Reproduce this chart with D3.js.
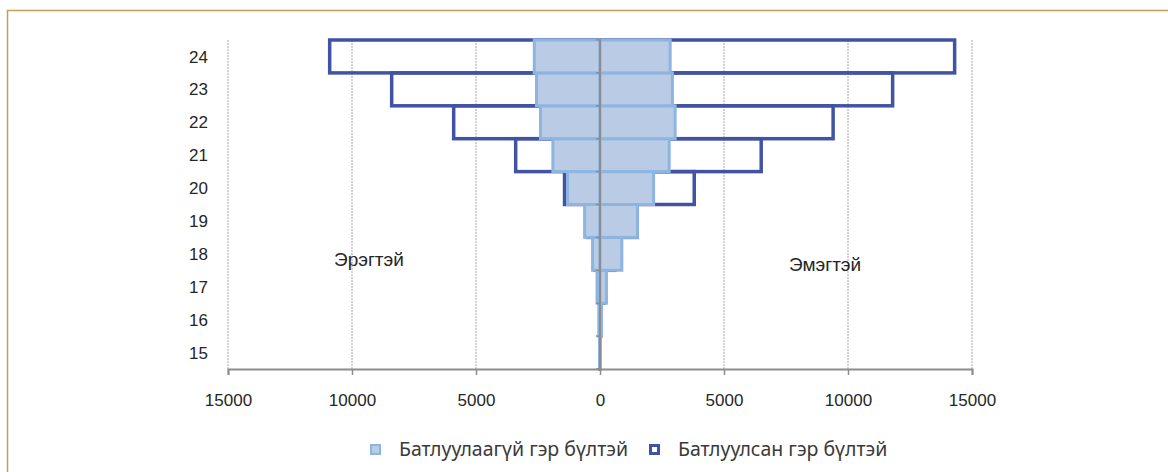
<!DOCTYPE html>
<html>
<head>
<meta charset="utf-8">
<script src="https://cdn.jsdelivr.net/npm/d3@7"></script>
<style>
  html, body { margin: 0; padding: 0; background: #fff; }
  svg { display: block; }
</style>
</head>
<body>
<svg id="chart" width="1168" height="472"></svg>
<script>
// ---- data ----
const ages = [15, 16, 17, 18, 19, 20, 21, 22, 23, 24];
const unregMale   = [20, 40, 120, 300, 620, 1310, 1900, 2400, 2560, 2650];
const unregFemale = [20, 60, 260, 880, 1510, 2160, 2790, 3030, 2920, 2830];
const regMale     = [5, 20, 50, 200, 500, 1430, 3400, 5900, 8400, 10900];
const regFemale   = [10, 30, 150, 600, 1500, 3800, 6500, 9400, 11800, 14300];
const xTicks = [-15000, -10000, -5000, 0, 5000, 10000, 15000];
const seriesNames = ["Батлуулаагүй гэр бүлтэй", "Батлуулсан гэр бүлтэй"];
const sideLabels = ["Эрэгтэй", "Эмэгтэй"];

// ---- style ----
const darkBlue = "#4353a4";
const lightFill = "#b9cbe5";
const lightStroke = "#8eb4e0";
const axisGray = "#8c8c8c";
const baseFont = "'Liberation Sans', Arial, sans-serif";

const svg = d3.select("#chart");

// frame
svg.append("path")
  .attr("d", "M7.5,472 L7.5,10.5 L1168,10.5")
  .attr("fill", "none").attr("stroke", "#bfa15a").attr("stroke-width", 1.5);

const x = d3.scaleLinear().domain([-15000, 15000]).range([228, 972]);
const y = d3.scaleBand().domain(ages.slice().reverse()).range([40, 369]).padding(0);

// gridlines
svg.append("g").selectAll("line")
  .data(xTicks.filter(t => t !== 0))
  .join("line")
  .attr("x1", d => x(d)).attr("x2", d => x(d))
  .attr("y1", 40).attr("y2", 369)
  .attr("stroke", "#a6a6a6").attr("stroke-width", 1)
  .attr("stroke-dasharray", "2,1");

const rows = ages.map((a, i) => ({
  age: a, um: unregMale[i], uf: unregFemale[i], rm: regMale[i], rf: regFemale[i]
}));

// registered (outline bars) behind
const gReg = svg.append("g");
rows.forEach(r => {
  gReg.append("rect")
    .attr("x", x(-r.rm)).attr("y", y(r.age))
    .attr("width", x(0) - x(-r.rm)).attr("height", y.bandwidth())
    .attr("fill", "none").attr("stroke", darkBlue).attr("stroke-width", 3.5);
  gReg.append("rect")
    .attr("x", x(0)).attr("y", y(r.age))
    .attr("width", x(r.rf) - x(0)).attr("height", y.bandwidth())
    .attr("fill", "none").attr("stroke", darkBlue).attr("stroke-width", 3.5);
});

// unregistered (filled) in front
const gUn = svg.append("g");
rows.forEach(r => {
  gUn.append("rect")
    .attr("x", x(-r.um)).attr("y", y(r.age))
    .attr("width", x(0) - x(-r.um)).attr("height", y.bandwidth())
    .attr("fill", lightFill).attr("stroke", lightStroke).attr("stroke-width", 3);
  gUn.append("rect")
    .attr("x", x(0)).attr("y", y(r.age))
    .attr("width", x(r.uf) - x(0)).attr("height", y.bandwidth())
    .attr("fill", lightFill).attr("stroke", lightStroke).attr("stroke-width", 3);
});

// y axis (center line with tick marks at band boundaries)
svg.append("line")
  .attr("x1", x(0)).attr("x2", x(0)).attr("y1", 39).attr("y2", 369)
  .attr("stroke", axisGray).attr("stroke-width", 2);
const bounds = ages.slice().reverse().map(a => y(a));
svg.append("g").selectAll("line").data(bounds.concat([369]))
  .join("line")
  .attr("x1", x(0) - 4).attr("x2", x(0))
  .attr("y1", d => d).attr("y2", d => d)
  .attr("stroke", axisGray).attr("stroke-width", 1.5);

// y labels (low position)
svg.append("g").selectAll("text").data(ages)
  .join("text")
  .attr("x", 208).attr("y", d => y(d) + y.bandwidth() / 2)
  .attr("dy", "0.36em")
  .attr("text-anchor", "end")
  .attr("font-family", baseFont).attr("font-size", 17)
  .attr("fill", "#262626")
  .text(d => d);

// x axis
const xAxis = d3.axisBottom(x).tickValues(xTicks).tickSize(6)
  .tickFormat(d => Math.abs(d));
const gx = svg.append("g").attr("transform", "translate(0,369)").call(xAxis);
gx.select(".domain").attr("stroke", axisGray).attr("stroke-width", 2);
gx.selectAll(".tick line").attr("stroke", axisGray).attr("stroke-width", 1.5);
gx.selectAll(".tick text")
  .attr("y", 0).attr("dy", "37px")
  .attr("font-family", baseFont).attr("font-size", 17).attr("fill", "#262626");

// side labels
svg.append("text").attr("x", 334).attr("y", 266)
  .attr("font-family", baseFont).attr("font-size", 19).attr("fill", "#262626")
  .text(sideLabels[0]);
svg.append("text").attr("x", 789).attr("y", 271)
  .attr("font-family", baseFont).attr("font-size", 19).attr("fill", "#262626")
  .text(sideLabels[1]);

// legend
const legFont = "'Noto Sans', 'Open Sans', sans-serif";
const leg = svg.append("g");
leg.append("rect").attr("x", 371).attr("y", 445).attr("width", 9).attr("height", 9)
  .attr("fill", lightFill).attr("stroke", lightStroke).attr("stroke-width", 2);
leg.append("text").attr("x", 399).attr("y", 456)
  .attr("font-family", legFont).attr("font-size", 19.5).attr("fill", "#3a3a3a")
  .text(seriesNames[0]);
leg.append("rect").attr("x", 650.5).attr("y", 445.5).attr("width", 8).attr("height", 8)
  .attr("fill", "#fff").attr("stroke", darkBlue).attr("stroke-width", 3);
leg.append("text").attr("x", 678).attr("y", 456)
  .attr("font-family", legFont).attr("font-size", 19.5).attr("fill", "#3a3a3a")
  .text(seriesNames[1]);
</script>
</body>
</html>
